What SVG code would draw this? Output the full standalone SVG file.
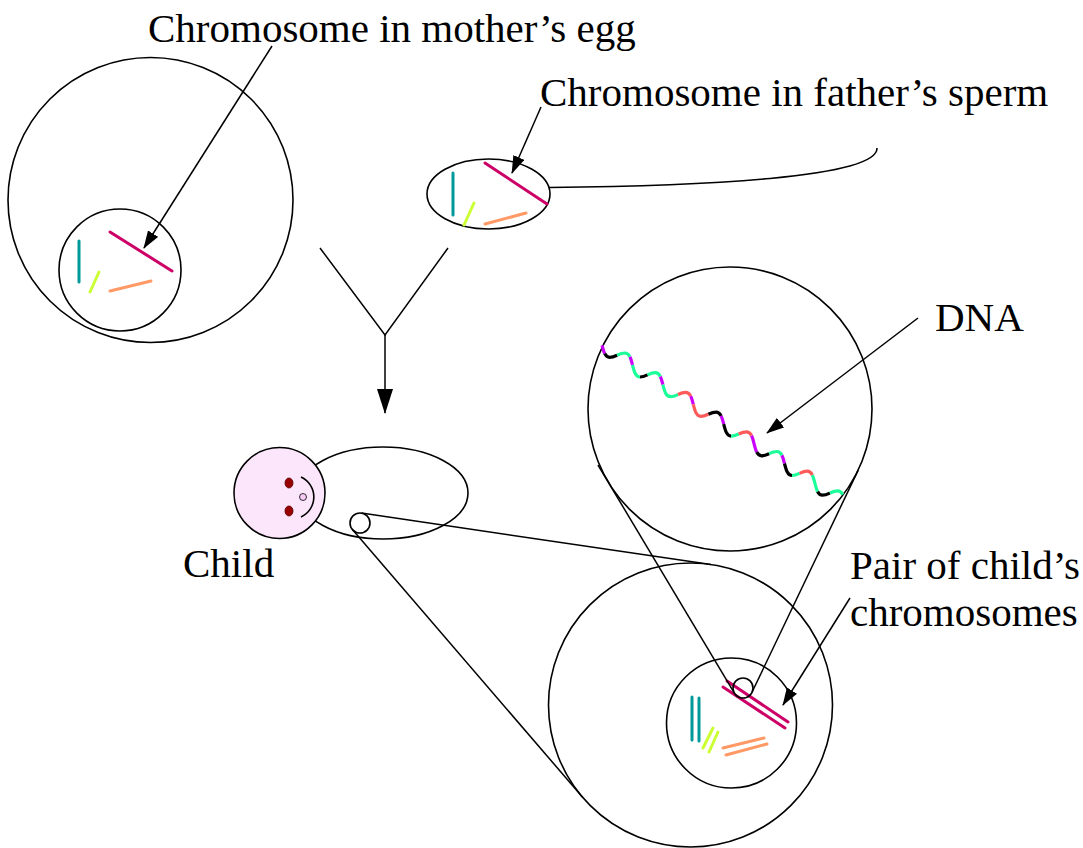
<svg xmlns="http://www.w3.org/2000/svg" width="1083" height="848" viewBox="0 0 1083 848">
  <style>
    .outline { fill: none; stroke: #000; stroke-width: 1.6; }
    .link { fill: none; stroke: #000; stroke-width: 1.5; }
    .label { font-family: "Liberation Serif", "Times New Roman", serif; font-size: 41px; fill: #000; }
    .chr { fill: none; stroke-width: 3; stroke-linecap: round; }
    .teal { stroke: #009999; }
    .lime { stroke: #ccff33; }
    .rose { stroke: #cc0066; }
    .peach { stroke: #ff9966; }
    .dna { fill: none; stroke-width: 3.2; }
  </style>
  <defs>
    <marker id="head" viewBox="0 0 18 12" refX="17" refY="6" markerWidth="18" markerHeight="12" markerUnits="userSpaceOnUse" orient="auto">
      <path d="M0,0 L18,6 L0,12 Z" fill="#000"/>
    </marker>
    <marker id="headBig" viewBox="0 0 25 16" refX="24" refY="8" markerWidth="25" markerHeight="16" markerUnits="userSpaceOnUse" orient="auto">
      <path d="M0,0 L25,8 L0,16 Z" fill="#000"/>
    </marker>
  </defs>

  <rect width="1083" height="848" fill="#fff"/>

  <!-- egg cell with its nucleus -->
  <g id="egg">
    <circle class="outline" cx="150.5" cy="200" r="142.5"/>
    <circle class="outline" cx="120" cy="270" r="61"/>
    <line class="chr teal" x1="79" y1="241" x2="79" y2="282"/>
    <line class="chr lime" x1="99" y1="272" x2="90" y2="292"/>
    <line class="chr rose" x1="110" y1="232" x2="172" y2="271"/>
    <line class="chr peach" x1="110" y1="291" x2="151" y2="281"/>
  </g>

  <!-- sperm cell with tail -->
  <g id="sperm">
    <ellipse class="outline" cx="488.5" cy="194" rx="61.5" ry="35"/>
    <path class="outline" d="M549,187.5 C700,186 878,178 877,148"/>
    <line class="chr teal" x1="453" y1="173" x2="453" y2="215"/>
    <line class="chr lime" x1="474" y1="203" x2="464" y2="225"/>
    <line class="chr rose" x1="485" y1="163" x2="547" y2="204"/>
    <line class="chr peach" x1="485" y1="224" x2="526" y2="213"/>
  </g>

  <!-- child -->
  <g id="child">
    <ellipse class="outline" cx="383" cy="493" rx="85" ry="46"/>
    <circle cx="279.5" cy="493" r="45.5" fill="#fbe6fb" stroke="#000" stroke-width="1.6"/>
    <ellipse cx="289" cy="483" rx="4" ry="5" fill="#990000" stroke="#550000" stroke-width="0.8"/>
    <ellipse cx="289" cy="511" rx="4" ry="5" fill="#990000" stroke="#550000" stroke-width="0.8"/>
    <circle cx="303" cy="497" r="3.5" fill="#f6ccf6" stroke="#000" stroke-width="0.8"/>
    <path class="outline" d="M301,477 A22,22 0 0 1 301,517"/>
    <circle class="outline" cx="360" cy="523" r="10"/>
  </g>

  <!-- magnified cell with the chromosome pairs -->
  <g id="cell">
    <circle class="outline" cx="690.5" cy="705" r="142"/>
    <circle class="outline" cx="731.5" cy="723" r="65"/>
    <line class="chr teal" x1="692" y1="697" x2="692" y2="740"/>
    <line class="chr teal" x1="699" y1="698" x2="699" y2="741"/>
    <line class="chr lime" x1="713" y1="728" x2="703" y2="748"/>
    <line class="chr lime" x1="718" y1="732" x2="709" y2="752"/>
    <line class="chr rose" x1="727" y1="681" x2="788" y2="722"/>
    <line class="chr rose" x1="723" y1="687" x2="785" y2="728"/>
    <line class="chr peach" x1="723" y1="748" x2="764" y2="738"/>
    <line class="chr peach" x1="726" y1="755" x2="767" y2="744"/>
    <circle class="outline" cx="743" cy="688" r="10"/>
  </g>

  <!-- magnified DNA strand -->
  <g id="dna">
    <circle class="outline" cx="730" cy="409" r="142"/>
    <path class="dna" stroke="#cc00ff" d="M602.1,345.3 c0.75,3 1.5,6 2.625,8.25
      M629.875,356.75 c1.125,2.25 1.875,5.25 2.625,8.25
      M660.275,376.45 c1.125,2.25 1.875,5.25 2.625,8.25
      M690.675,396.15 c1.125,2.25 1.875,5.25 2.625,8.25
      M721.075,415.85 c1.125,2.25 1.875,5.25 2.625,8.25
      M751.475,435.55 c1.125,2.25 1.875,5.25 2.625,8.25 c0.75,3 1.5,6 2.625,8.25
      M781.875,455.25 c1.125,2.25 1.875,5.25 2.625,8.25"/>
    <path class="dna" stroke="#000" d="M604.725,353.55 c1.125,2.25 2.625,3.75 4.875,3.75 c3,0 5.25,-1.075 7.55,-2.15
      M640,377 c3,0 5.25,-1.075 7.55,-2.15
      M708.35,414.25 c2.3,-1.075 4.65,-2.15 7.85,-2.15 c2.25,0 3.75,1.5 4.875,3.75
      M723.7,424.1 c0.75,3 1.5,6 2.625,8.25 c1.125,2.25 2.625,3.75 4.875,3.75
      M756.725,452.05 c1.125,2.25 2.625,3.75 4.875,3.75 c3,0 5.25,-1.075 7.55,-2.15
      M784.5,463.5 c0.75,3 1.5,6 2.625,8.25 c1.125,2.25 2.625,3.75 4.875,3.75
      M817.525,491.45 c1.125,2.25 2.625,3.75 4.875,3.75 c3,0 5.25,-1.075 7.55,-2.15"/>
    <path class="dna" stroke="#1bff98" d="M617.15,355.15 c2.3,-1.075 4.65,-2.15 7.85,-2.15 c2.25,0 3.75,1.5 4.875,3.75
      M632.5,365 c0.75,3 1.5,6 2.625,8.25 c1.125,2.25 2.625,3.75 4.875,3.75
      M647.55,374.85 c2.3,-1.075 4.65,-2.15 7.85,-2.15 c2.25,0 3.75,1.5 4.875,3.75
      M662.9,384.7 c0.75,3 1.5,6 2.625,8.25 c1.125,2.25 2.625,3.75 4.875,3.75 c3,0 5.25,-1.075 7.55,-2.15
      M731.2,436.1 c3,0 5.25,-1.075 7.55,-2.15
      M769.15,453.65 c2.3,-1.075 4.65,-2.15 7.85,-2.15 c2.25,0 3.75,1.5 4.875,3.75
      M792,475.5 c3,0 5.25,-1.075 7.55,-2.15
      M812.275,474.95 c1.125,2.25 1.875,5.25 2.625,8.25 c0.75,3 1.5,6 2.625,8.25
      M829.95,493.05 c2.3,-1.075 4.65,-2.15 7.85,-2.15 c2.25,0 3.75,1.5 4.875,3.75"/>
    <path class="dna" stroke="#ff5a5a" d="M677.95,394.55 c2.3,-1.075 4.65,-2.15 7.85,-2.15 c2.25,0 3.75,1.5 4.875,3.75
      M693.3,404.4 c0.75,3 1.5,6 2.625,8.25 c1.125,2.25 2.625,3.75 4.875,3.75 c3,0 5.25,-1.075 7.55,-2.15
      M738.75,433.95 c2.3,-1.075 4.65,-2.15 7.85,-2.15 c2.25,0 3.75,1.5 4.875,3.75
      M799.55,473.35 c2.3,-1.075 4.65,-2.15 7.85,-2.15 c2.25,0 3.75,1.5 4.875,3.75"/>
  </g>

  <!-- connectors: fusion arrow, magnification lines and label pointers -->
  <g id="connectors">
    <polyline class="link" points="320,248 385,335 448,248"/>
    <line class="link" x1="385" y1="335" x2="385" y2="413" marker-end="url(#headBig)"/>
    <line class="link" x1="361.5" y1="513.1" x2="711" y2="564.5"/>
    <line class="link" x1="352.4" y1="529.5" x2="582.8" y2="797.5"/>
    <line class="link" x1="734.4" y1="693.1" x2="598" y2="465"/>
    <line class="link" x1="752" y1="692.3" x2="858.2" y2="470.1"/>
    <line class="link" x1="272" y1="46" x2="144" y2="248" marker-end="url(#head)"/>
    <line class="link" x1="541" y1="107" x2="512" y2="173" marker-end="url(#head)"/>
    <line class="link" x1="918" y1="318" x2="767" y2="433" marker-end="url(#head)"/>
    <line class="link" x1="850" y1="598" x2="783" y2="705" marker-end="url(#head)"/>
  </g>

  <!-- labels -->
  <g id="labels">
    <text class="label" x="148" y="42">Chromosome in mother’s egg</text>
    <text class="label" x="540" y="106">Chromosome in father’s sperm</text>
    <text class="label" x="935" y="331">DNA</text>
    <text class="label" x="183" y="577">Child</text>
    <text class="label" x="850" y="579">Pair of child’s</text>
    <text class="label" x="850" y="626">chromosomes</text>
  </g>
</svg>
